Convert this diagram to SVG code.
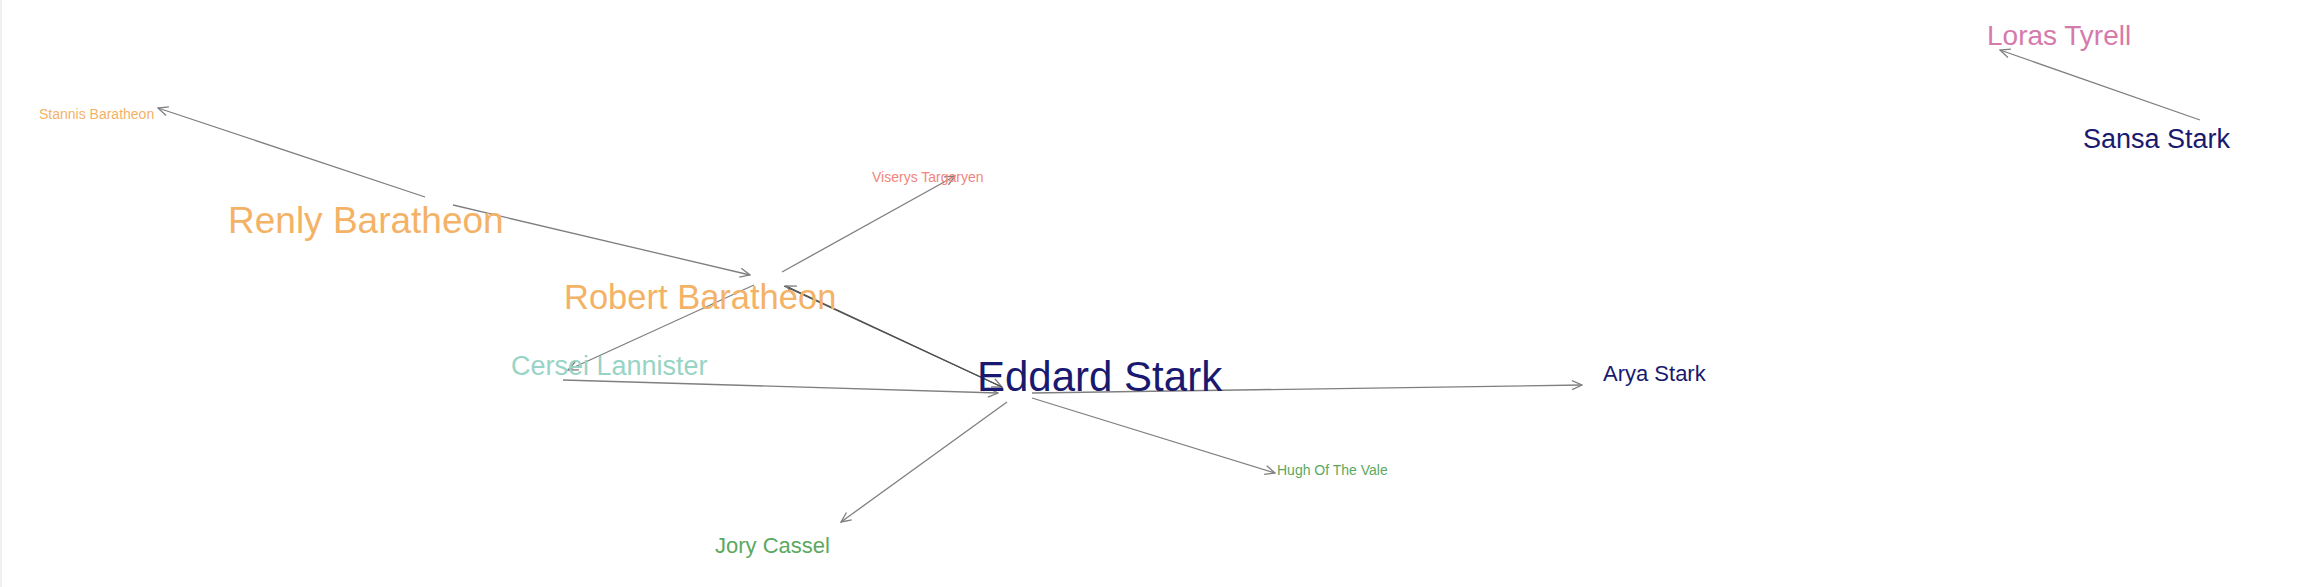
<svg xmlns="http://www.w3.org/2000/svg" width="2318" height="587" viewBox="0 0 2318 587">
<style>
text{font-family:"Liberation Sans",Arial,sans-serif}
.e{stroke:#7f7f7f;stroke-width:1.3;fill:none;marker-end:url(#ah)}
.d{stroke:#505050}
.stark{fill:#191970}
.bara{fill:#f4b266}
.green{fill:#5ba85f}
</style>
<defs>
<marker id="ah" viewBox="-11 -6 12 12" refX="0" refY="0" markerWidth="12" markerHeight="12" markerUnits="userSpaceOnUse" orient="auto">
<path d="M-10,-4.5 L0,0 L-10,4.5" fill="none" stroke="#7f7f7f" stroke-width="1.3"/>
</marker>
</defs>
<rect width="2318" height="587" fill="#ffffff"/>
<rect x="0" y="0" width="2" height="587" fill="#efefef"/>
<g id="connectors">
<line class="e" x1="2200" y1="120" x2="2000" y2="50"/>
<line class="e" x1="425" y1="197" x2="158" y2="108"/>
<line class="e" x1="453" y1="205" x2="750" y2="275"/>
<line class="e" x1="782" y1="272" x2="955" y2="176"/>
<line class="e" x1="754" y1="285" x2="568" y2="370"/>
<line class="e d" x1="784" y1="286" x2="1002" y2="387"/>
<line class="e d" x1="1002" y1="387" x2="786" y2="286"/>
<line class="e" x1="563" y1="380" x2="998" y2="393"/>
<line class="e" x1="1032" y1="393" x2="1582" y2="385"/>
<line class="e" x1="1032" y1="398" x2="1275" y2="473"/>
<line class="e" x1="1007" y1="402" x2="841" y2="522"/>
</g>
<g id="loras"><text x="1987" y="45" font-size="28" fill="#d67aab">Loras Tyrell</text></g>
<g id="sansa"><text x="2083" y="148" font-size="27" class="stark">Sansa Stark</text></g>
<g id="stannis"><text x="39" y="119" font-size="14" class="bara">Stannis Baratheon</text></g>
<g id="renly"><text x="228" y="233" font-size="37" class="bara">Renly Baratheon</text></g>
<g id="viserys"><text x="872" y="182" font-size="14" fill="#f2857a">Viserys Targaryen</text></g>
<g id="robert"><text x="564" y="309" font-size="34.5" class="bara">Robert Baratheon</text></g>
<g id="cersei"><text x="511" y="375" font-size="27" fill="#98d4c6">Cersei Lannister</text></g>
<g id="eddard"><text x="977" y="391" font-size="42" class="stark">Eddard Stark</text></g>
<g id="arya"><text x="1603" y="381" font-size="22" class="stark">Arya Stark</text></g>
<g id="hugh"><text x="1277" y="475" font-size="14" class="green">Hugh Of The Vale</text></g>
<g id="jory"><text x="715" y="553" font-size="22" class="green">Jory Cassel</text></g>
</svg>
